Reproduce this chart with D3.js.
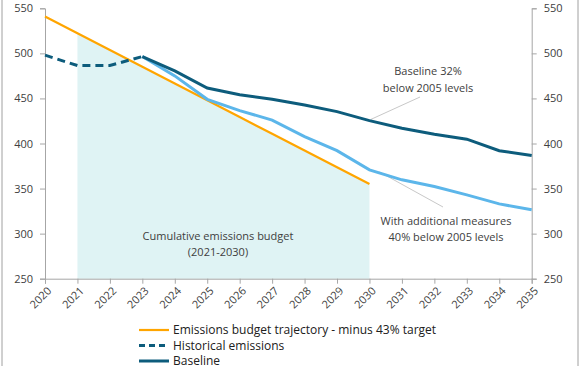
<!DOCTYPE html>
<html><head><meta charset="utf-8">
<script src="https://cdn.jsdelivr.net/npm/d3@7"></script>
<style>
html,body{margin:0;padding:0;background:#fff;}
svg{display:block;font-family:"Open Sans",sans-serif;}
</style></head>
<body><svg id="c" width="580" height="366"></svg>
<script>
const years = [2020,2021,2022,2023,2024,2025,2026,2027,2028,2029,2030,2031,2032,2033,2034,2035];
const budgetYears = [2020,2021,2022,2023,2024,2025,2026,2027,2028,2029,2030];
const budgetValues = [541,522.4,503.8,485.2,466.6,448,429.4,410.8,392.2,373.6,355];
const histYears = [2020,2021,2022,2023];
const histValues = [498,486.5,486.5,496.5];
const projYears = [2023,2024,2025,2026,2027,2028,2029,2030,2031,2032,2033,2034,2035];
const baselineValues = [496.5,480.5,461.5,454,449,442.8,435.4,425.4,417,410.3,404.8,392,386.6];
const wamValues = [496.5,475,449,436.5,426,407.7,392,370.7,359.7,352.2,343,333,326.4];
const yTicks = [250,300,350,400,450,500,550];
const legendLabels = ["Emissions budget trajectory - minus 43% target","Historical emissions","Baseline"];

const svg = d3.select("#c");
const x = d3.scaleLinear().domain([2020,2035]).range([45,531.7]);
const y = d3.scaleLinear().domain([250,550]).range([278.7,8.3]);

const cOrange="#ffa500", cDark="#0d5c7c", cLight="#5cb6ea", cShade="#dff3f4", cAxis="#a6a6a6", cText="#404040";

// frame lines
svg.append("line").attr("x1",2).attr("x2",2).attr("y1",0).attr("y2",366).attr("stroke","#a0a0a0").attr("stroke-width",1);
svg.append("line").attr("x1",578).attr("x2",578).attr("y1",0).attr("y2",366).attr("stroke","#a0a0a0").attr("stroke-width",1);

// shaded budget area 2021-2030
const shadeData = budgetYears.map((yr,i)=>({yr,v:budgetValues[i]})).filter(d=>d.yr>=2021);
svg.append("path").datum(shadeData)
  .attr("d", d3.area().x(d=>x(d.yr)).y0(y(250)).y1(d=>y(d.v)))
  .attr("fill", cShade);

// axes
const axL = svg.append("g").attr("transform",`translate(${x(2020)},0)`)
  .call(d3.axisLeft(y).tickValues(yTicks).tickSize(5).tickPadding(7));
const axR = svg.append("g").attr("transform",`translate(${x(2035)},0)`)
  .call(d3.axisRight(y).tickValues(yTicks).tickSize(5).tickPadding(7));
const axB = svg.append("g").attr("transform",`translate(0,${y(250)})`)
  .call(d3.axisBottom(x).tickValues(years).tickFormat(d3.format("d")).tickSize(5));
[axL,axR,axB].forEach(g=>{
  g.select(".domain").attr("stroke",cAxis);
  g.selectAll(".tick line").attr("stroke",cAxis);
  g.selectAll("text").attr("fill",cText).style("font-size","11px").style("font-family","'Open Sans',sans-serif");
});
axB.selectAll("text").attr("text-anchor","end").attr("dy","0.35em")
  .attr("transform","translate(4,10) rotate(-45)").attr("y",0).attr("x",0);

const line = d3.line().x(d=>x(d[0])).y(d=>y(d[1]));
const zip=(a,b)=>a.map((v,i)=>[v,b[i]]);

// leader lines
svg.append("line").attr("x1",x(2030)+1).attr("y1",y(baselineValues[7])-1).attr("x2",420).attr("y2",97).attr("stroke","#c8c8c8").attr("stroke-width",1);
svg.append("line").attr("x1",x(2030)+10).attr("y1",y(wamValues[7])+2).attr("x2",443).attr("y2",207).attr("stroke","#c8c8c8").attr("stroke-width",1);

svg.append("path").datum(zip(budgetYears,budgetValues)).attr("d",line).attr("fill","none").attr("stroke",cOrange).attr("stroke-width",2.2);
svg.append("path").datum(zip(projYears,wamValues)).attr("d",line).attr("fill","none").attr("stroke",cLight).attr("stroke-width",3);
svg.append("path").datum(zip(projYears,baselineValues)).attr("d",line).attr("fill","none").attr("stroke",cDark).attr("stroke-width",3);
svg.append("path").datum(zip(histYears,histValues)).attr("d",line).attr("fill","none").attr("stroke",cDark).attr("stroke-width",3).attr("stroke-dasharray","8,5");

// annotations
function txt(xp,yp,s,anchor){
  svg.append("text").attr("x",xp).attr("y",yp).attr("text-anchor",anchor||"middle")
   .attr("fill",cText).style("font-size","11px").text(s);
}
txt(428,75,"Baseline 32%");
txt(428,92,"below 2005 levels");
txt(446,225,"With additional measures");
txt(446,241,"40% below 2005 levels");
txt(218,240,"Cumulative emissions budget");
txt(218,256,"(2021-2030)");

// legend
const leg = [
  {c:cOrange,w:2.2,dash:null},
  {c:cDark,w:3,dash:"6,4"},
  {c:cDark,w:3,dash:null}
];
leg.forEach((d,i)=>{
  const yy = 330 + i*15.5;
  svg.append("line").attr("x1",139).attr("x2",169).attr("y1",yy).attr("y2",yy)
    .attr("stroke",d.c).attr("stroke-width",d.w).attr("stroke-dasharray",d.dash);
  svg.append("text").attr("x",173).attr("y",yy).attr("dy","0.35em")
    .attr("fill","#202020").style("font-size","12px").text(legendLabels[i]);
});
</script></body></html>
